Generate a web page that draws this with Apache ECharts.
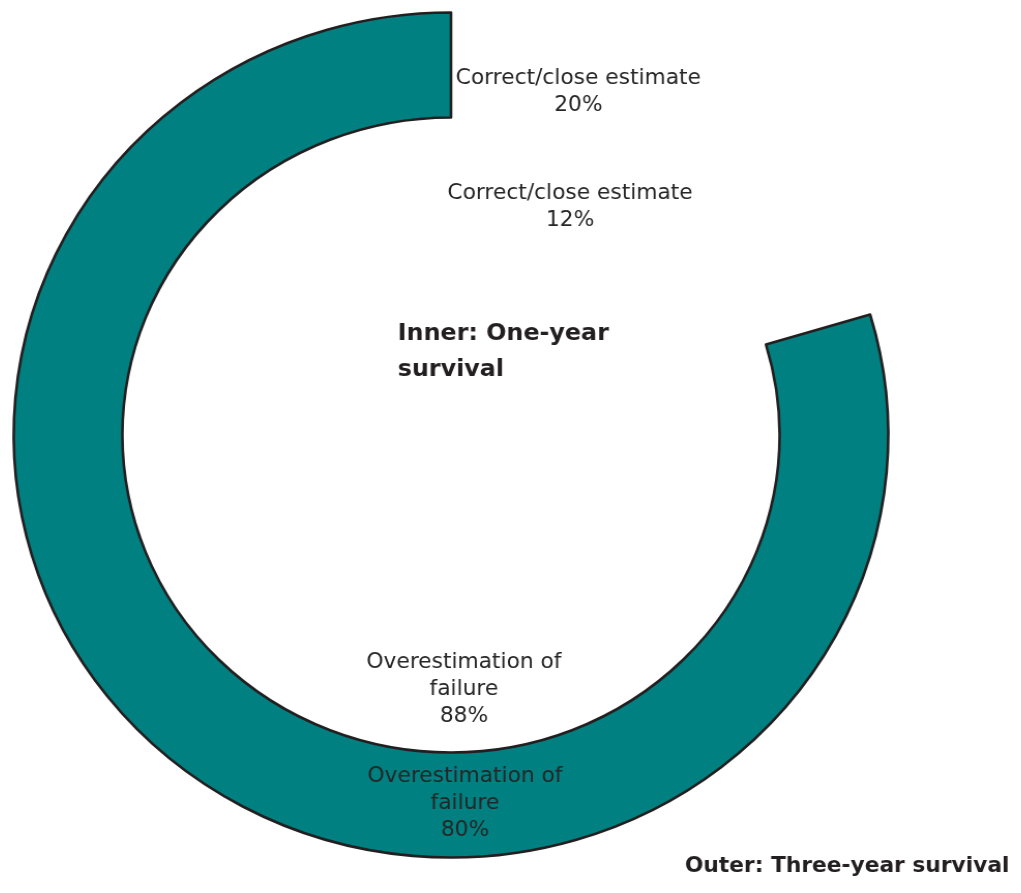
<!DOCTYPE html>
<html>
<head>
<meta charset="utf-8">
<script src="https://cdn.jsdelivr.net/npm/echarts@6/dist/echarts.min.js"></script>
<style>
html,body{margin:0;padding:0;background:#fff;overflow:hidden;}
#chart{position:absolute;left:0;top:0;width:1021px;height:893px;transform:scaleX(1.035);transform-origin:451px 0;}
</style>
</head>
<body>
<div id="chart"></div>
<script>
// Data
const categories = ['Correct/close estimate', 'Overestimation of failure'];
const categoryLabels = ['Correct/close estimate', 'Overestimation of\nfailure'];
const innerValues = [12, 88];      // one-year survival (inner ring)
const outerValues = [20.4, 79.6];  // three-year survival (outer ring)
const innerTitle = 'Inner: One-year\nsurvival';
const outerTitle = 'Outer: Three-year survival';

// Label placements (chart coords)
const outerLabelPos = [[574, 92], [464.5, 804]];
const innerLabelPos = [[566, 207], [463.5, 690]];

const chart = echarts.init(document.getElementById('chart'), null, {renderer: 'canvas'});
const FONT = 'DejaVu Sans';
const labelStyle = {
  show: true,
  position: 'inside',
  color: '#262626',
  fontFamily: FONT,
  fontSize: 21,
  lineHeight: 27,
  align: 'center',
  formatter: p => categoryLabels[p.dataIndex] + '\n' + Math.round(p.percent) + '%'
};

chart.setOption({
  animation: false,
  backgroundColor: '#ffffff',
  series: [
    {
      name: 'Inner',
      type: 'pie',
      center: [451, 435],
      radius: [200, 310],
      startAngle: 90,
      clockwise: true,
      silent: true,
      label: labelStyle,
      labelLine: {show: false},
      labelLayout: p => ({x: innerLabelPos[p.dataIndex][0], y: innerLabelPos[p.dataIndex][1], align: 'center', verticalAlign: 'middle'}),
      itemStyle: {color: 'rgba(0,0,0,0)', borderWidth: 0},
      data: categories.map((c, i) => ({name: c, value: innerValues[i]}))
    },
    {
      name: 'Outer',
      type: 'pie',
      center: [451, 435],
      radius: [317.5, 422.5],
      startAngle: 90,
      clockwise: true,
      silent: true,
      label: labelStyle,
      labelLine: {show: false},
      labelLayout: p => ({x: outerLabelPos[p.dataIndex][0], y: outerLabelPos[p.dataIndex][1], align: 'center', verticalAlign: 'middle'}),
      data: categories.map((c, i) => ({
        name: c,
        value: outerValues[i],
        itemStyle: i === 0
          ? {color: 'rgba(0,0,0,0)', borderWidth: 0}
          : {color: '#008080', borderColor: '#231f20', borderWidth: 2.6}
      }))
    }
  ],
  graphic: [
    {
      type: 'text', left: 399.5, top: 316,
      style: {text: innerTitle, fill: '#231f20', font: 'bold 23px "DejaVu Sans"', lineHeight: 36}
    },
    {
      type: 'text', left: 677, top: 855,
      style: {text: outerTitle, fill: '#231f20', font: 'bold 21px "DejaVu Sans"', lineHeight: 24}
    }
  ]
});
</script>
</body>
</html>
